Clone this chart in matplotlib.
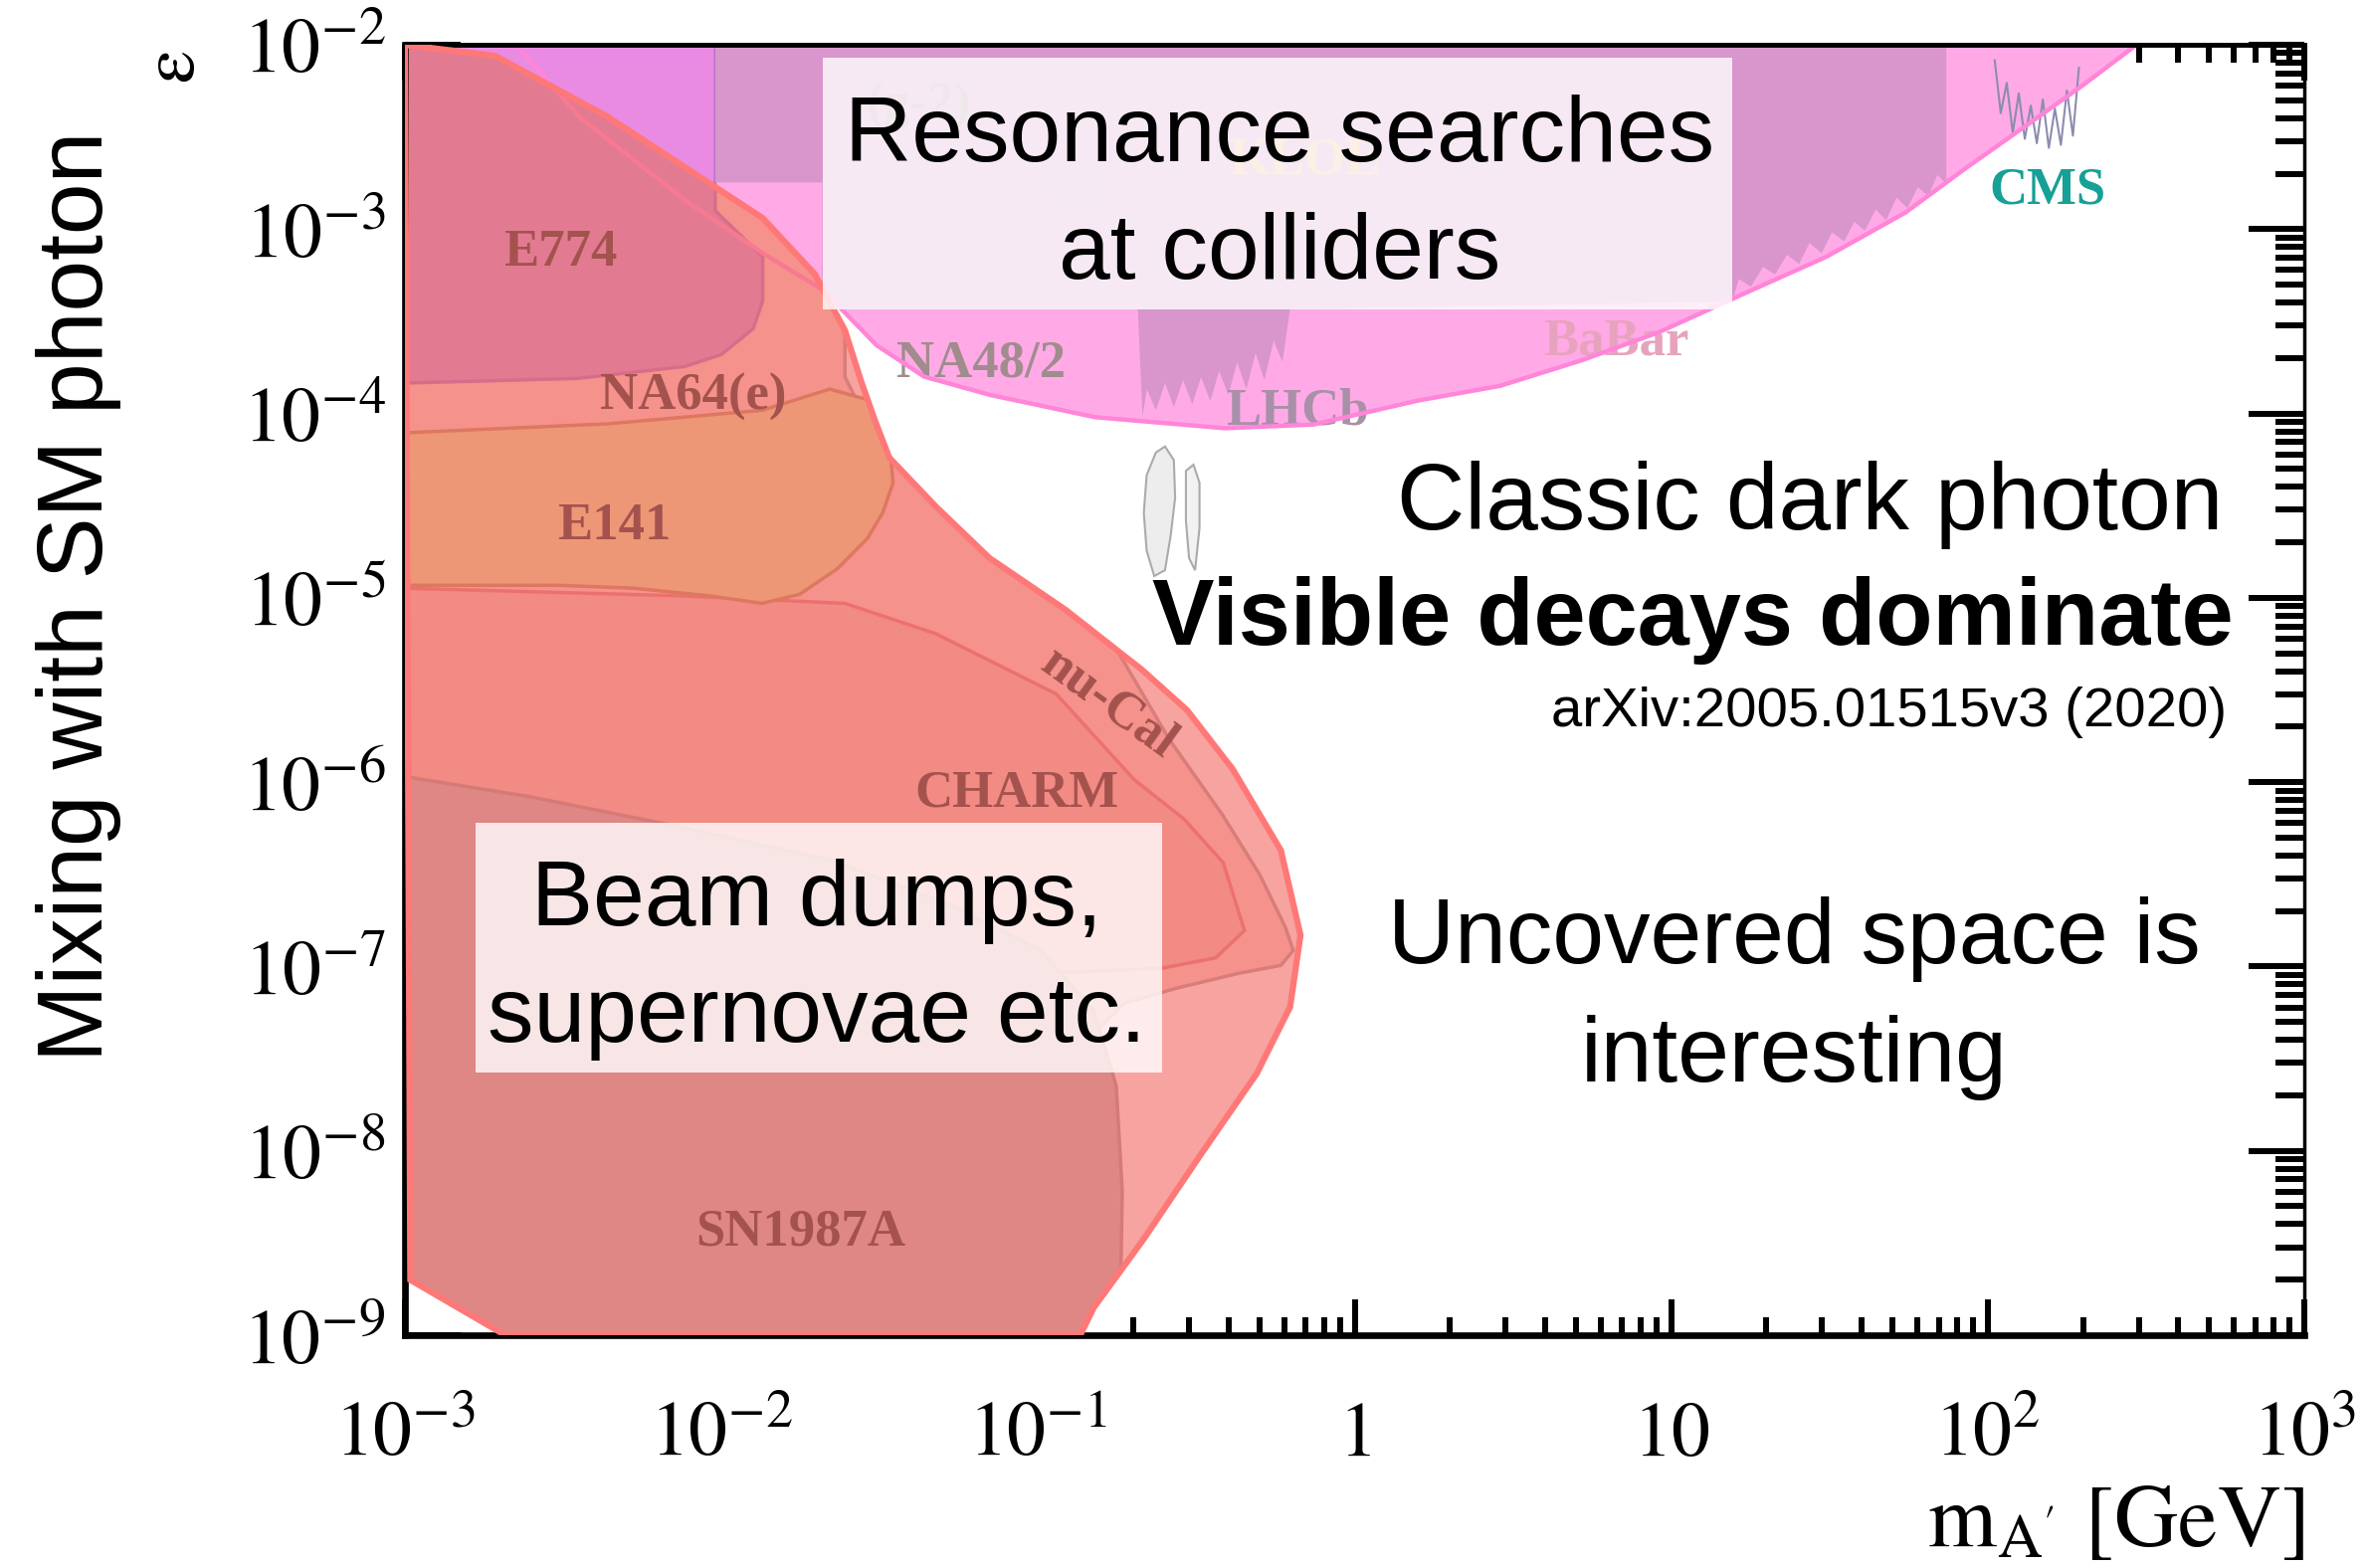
import numpy as np
import matplotlib
matplotlib.use("Agg")
import matplotlib.pyplot as plt
from matplotlib.patches import Polygon, Rectangle
from matplotlib.ticker import LogLocator, NullFormatter

plt.rcParams['mathtext.fontset'] = 'stix'
plt.rcParams['font.family'] = ['Liberation Sans', 'DejaVu Sans']

# boundaries are stored as log10(m / GeV) and log10(epsilon)

# combined beam-dump / supernova envelope
envelope_logm = [-3.00, -2.715, -2.36, -2.115, -1.87, -1.705, -1.61, -1.56, -1.515, -1.47,
                 -1.32, -1.153, -0.914, -0.672, -0.529, -0.385, -0.233, -0.171, -0.204,
                 -0.309, -0.49, -0.667, -0.824, -0.867, -2.683, -2.983]
envelope_logeps = [-2.00, -2.06, -2.39, -2.665, -2.94, -3.245, -3.55, -3.82, -4.04, -4.24,
                   -4.51, -4.785, -5.064, -5.39, -5.61, -5.93, -6.37, -6.83, -7.22,
                   -7.58, -8.03, -8.48, -8.85, -9.00, -9.00, -8.70]

# combined collider resonance-search envelope
collider_logm = [-2.66, 2.47, 2.30, 2.12, 1.93, 1.74, 1.49, 1.23, 0.96, 0.72, 0.46, 0.20,
                 -0.13, -0.41, -0.82, -1.15, -1.36, -1.51, -1.68, -1.87, -2.11, -2.45, -2.64]
collider_logeps = [-2.00, -2.00, -2.22, -2.44, -2.67, -2.91, -3.15, -3.35, -3.56, -3.71, -3.85, -3.93,
                   -4.06, -4.08, -4.02, -3.90, -3.80, -3.63, -3.33, -3.13, -2.85, -2.39, -2.02]

# (g-2)_e / E774 style region in the upper left
orchid_logm = [-3.00, -2.02, -2.02, -1.87, -1.87, -1.90, -2.00, -2.115, -2.455, -3.00]
orchid_logeps = [-2.00, -2.00, -2.90, -3.15, -3.39, -3.54, -3.68, -3.745, -3.81, -3.835]

# individual collider limits (LHCb, BaBar, KLOE, A1 ...), jagged lower edge
limits_logm = [-2.020, 1.869, 1.869, 1.841, 1.812, 1.779, 1.746, 1.712, 1.679, 1.646, 1.612,
               1.579, 1.546, 1.508, 1.475, 1.437, 1.404, 1.366, 1.328, 1.290, 1.252, 1.214,
               1.193, -0.204, -0.228, -0.256, -0.285, -0.313, -0.342, -0.371, -0.399, -0.428,
               -0.456, -0.485, -0.513, -0.542, -0.571, -0.599, -0.628, -0.656, -0.670, -0.685,
               -1.682, -1.682, -2.020]
limits_logeps = [-2.00, -2.00, -2.755, -2.706, -2.821, -2.772, -2.886, -2.829, -2.952, -2.894,
                 -3.009, -2.960, -3.066, -3.017, -3.131, -3.074, -3.189, -3.139, -3.246, -3.205,
                 -3.312, -3.271, -3.394, -3.435, -3.721, -3.606, -3.819, -3.672, -3.868, -3.721,
                 -3.900, -3.770, -3.933, -3.802, -3.950, -3.819, -3.966, -3.835, -3.983, -3.868,
                 -4.015, -3.435, -3.435, -2.747, -2.747]

# CMS dimuon limit
cms_logm = [2.022, 2.041, 2.060, 2.079, 2.098, 2.117, 2.136, 2.155, 2.174, 2.193, 2.212,
            2.231, 2.250, 2.269, 2.288]
cms_logeps = [-2.084, -2.371, -2.207, -2.477, -2.264, -2.510, -2.330, -2.534, -2.297, -2.559,
              -2.346, -2.543, -2.248, -2.493, -2.125]

# small closed contours near 0.25 GeV
blob1_logm = [-0.657, -0.628, -0.599, -0.571, -0.567, -0.581, -0.599, -0.633, -0.657, -0.666]
blob1_logeps = [-4.335, -4.212, -4.179, -4.253, -4.457, -4.662, -4.850, -4.882, -4.744, -4.539]
blob2_logm = [-0.533, -0.509, -0.490, -0.490, -0.504, -0.523, -0.533]
blob2_logeps = [-4.311, -4.278, -4.376, -4.621, -4.850, -4.785, -4.580]

# beam dump sub-regions
nucal_logm = [-3.00, -1.610, -1.610, -1.491, -1.324, -1.038, -0.753, -0.586, -0.418, -0.299,
              -0.218, -0.194, -0.233, -0.361, -0.561, -0.728, -0.848, -0.943, -0.990, -3.00]
nucal_logeps = [-2.00, -2.00, -3.802, -4.212, -4.457, -4.866, -5.276, -5.767, -6.176, -6.504,
                -6.790, -6.913, -6.994, -7.035, -7.117, -7.199, -7.404, -7.648, -9.0, -9.0]

charm_logm = [-3.00, -2.134, -1.610, -1.324, -0.943, -0.696, -0.539, -0.415, -0.348, -0.439,
              -0.610, -0.943, -1.420, -3.00]
charm_logeps = [-4.948, -4.989, -5.030, -5.194, -5.521, -5.987, -6.200, -6.437, -6.805, -6.953,
                -7.010, -7.035, -7.035, -7.035]

sn_logm = [-3.00, -2.611, -2.134, -1.658, -1.277, -0.991, -0.824, -0.753, -0.734, -0.739,
           -0.753, -3.00]
sn_logeps = [-5.970, -6.077, -6.241, -6.421, -6.666, -6.912, -7.239, -7.648, -8.221, -8.712,
             -9.0, -9.0]

e141_logm = [-3.00, -2.358, -1.872, -1.658, -1.539, -1.467, -1.458, -1.491, -1.539, -1.634,
             -1.753, -1.872, -2.039, -2.277, -2.516, -3.00]
e141_logeps = [-4.105, -4.056, -3.983, -3.868, -3.925, -4.212, -4.376, -4.539, -4.678, -4.842,
               -4.981, -5.030, -4.989, -4.948, -4.932, -4.932]

# experiment labels: name, log10 m, log10 eps, rotation
dump_labels = ["E774", "NA64(e)", "E141", "CHARM", "SN1987A", "nu-Cal"]
dump_label_logm = [-2.51, -2.09, -2.34, -1.067, -1.75, -0.776]
dump_label_logeps = [-3.13, -3.91, -4.61, -6.06, -8.44, -5.57]
dump_label_rot = [0, 0, 0, 0, 0, -36]

x_tick_exp = [-3, -2, -1, 0, 1, 2, 3]
x_tick_labels = [r'$10^{-3}$', r'$10^{-2}$', r'$10^{-1}$', r'$1$', r'$10$', r'$10^{2}$', r'$10^{3}$']
y_tick_exp = [-9, -8, -7, -6, -5, -4, -3, -2]
y_tick_labels = [r'$10^{%d}$' % e for e in y_tick_exp]


def region(ax, logm, logeps, **kw):
    xy = np.column_stack([10.0 ** np.asarray(logm), 10.0 ** np.asarray(logeps)])
    patch = Polygon(xy, closed=True, **kw)
    ax.add_patch(patch)
    return patch


W, H = 2378, 1576
fig = plt.figure(figsize=(W / 100, H / 100), dpi=100)
ax = fig.add_axes([407 / W, (H - 1342) / H, 1909 / W, 1297 / H])
ax.set_xscale('log')
ax.set_yscale('log')
ax.set_xlim(1e-3, 1e3)
ax.set_ylim(1e-9, 1e-2)
ax.set_axisbelow(True)

# collider side
region(ax, collider_logm, collider_logeps, facecolor='#FFAAE6', edgecolor='none', zorder=1.0)
region(ax, orchid_logm, orchid_logeps, facecolor='#E98BE3', edgecolor='#B070C8', lw=2.0, zorder=1.1)
region(ax, limits_logm, limits_logeps, facecolor='#D896CC', edgecolor='none', zorder=1.2)
ax.plot(10.0 ** np.array(cms_logm), 10.0 ** np.array(cms_logeps), color='#8C8CB0', lw=1.5, zorder=1.3)
region(ax, blob1_logm, blob1_logeps, facecolor='#EDEDED', edgecolor='#AAAAAA', lw=1.5, zorder=1.3)
region(ax, blob2_logm, blob2_logeps, facecolor='#F2F2F2', edgecolor='#AAAAAA', lw=1.5, zorder=1.3)

coll_labels = [("NA48/2", -1.18, -3.73, '#A08C8C'), ("LHCb", -0.18, -3.99, '#A890A8'),
               ("BaBar", 0.826, -3.61, '#E7A3BE'), ("CMS", 2.19, -2.79, '#17A096'),
               ("A1", -0.904, -2.78, '#C8A0B8'), ("KLOE", -0.156, -2.63, '#F5B880'),
               ("(g-2)$_e$", -1.35, -2.33, '#B090A0'), ("E137", -1.23, -7.20, '#A06060')]
for name, lm, le, col in coll_labels:
    ax.text(10 ** lm, 10 ** le, name, color=col, fontsize=38, fontweight='bold',
            family='Liberation Serif', ha='center', va='center', zorder=1.4)

# beam dump side, clipped to the combined envelope
env_fill = region(ax, envelope_logm, envelope_logeps, facecolor='#F3736D', alpha=0.65,
                  edgecolor='none', zorder=2.0)
subs = [
    (nucal_logm, nucal_logeps, '#FACDC8', '#A89090', 1.5),
    (charm_logm, charm_logeps, '#F0B8B0', '#E07070', 1.6),
    (sn_logm, sn_logeps, '#B9AEB4', '#A08888', 1.7),
    (e141_logm, e141_logeps, '#E5DC8C', '#B8804A', 1.8),
    (orchid_logm, orchid_logeps, '#C48AD8', '#A864C0', 1.9),
]
for lm, le, fc, ec, z in subs:
    p = region(ax, lm, le, facecolor=fc, edgecolor=ec, lw=2.5, zorder=z)
    p.set_clip_path(env_fill)
pink_edge = region(ax, collider_logm, collider_logeps, facecolor='none', edgecolor='#FF85D8',
                   lw=3.2, zorder=1.95)
region(ax, envelope_logm, envelope_logeps, facecolor='none', edgecolor='#FF7878', lw=4.5, zorder=3.0)

for name, lm, le, rot in zip(dump_labels, dump_label_logm, dump_label_logeps, dump_label_rot):
    ax.text(10 ** lm, 10 ** le, name, color='#A4524E', fontsize=38, fontweight='bold',
            family='Liberation Serif', ha='center', va='center', rotation=rot, zorder=3.5)

# axes styling
ax.set_xticks(10.0 ** np.array(x_tick_exp))
ax.set_xticklabels(x_tick_labels)
ax.set_yticks(10.0 ** np.array(y_tick_exp))
ax.set_yticklabels(y_tick_labels)
ax.xaxis.set_minor_locator(LogLocator(base=10, subs=np.arange(2, 10), numticks=100))
ax.yaxis.set_minor_locator(LogLocator(base=10, subs=np.arange(2, 10), numticks=100))
ax.xaxis.set_minor_formatter(NullFormatter())
ax.yaxis.set_minor_formatter(NullFormatter())
ax.tick_params(axis='x', which='major', direction='in', length=26, width=4.3, top=True,
               bottom=True, pad=87, labelsize=56)
ax.tick_params(axis='x', which='minor', direction='in', length=13, width=4.3, top=True, bottom=True)
ax.tick_params(axis='y', which='major', direction='in', length=40, width=4.3, left=True,
               right=True, pad=14, labelsize=56)
ax.tick_params(axis='y', which='minor', direction='in', length=21, width=4.3, left=True, right=True)
for lab in ax.get_xticklabels():
    lab.set_verticalalignment('baseline')
ax.spines['bottom'].set_linewidth(4.8)
ax.spines['left'].set_linewidth(4.8)
ax.spines['top'].set_linewidth(3.5)
ax.spines['right'].set_linewidth(2.5)

# annotation boxes
ax.add_patch(Rectangle((0.2200, 0.7949), 0.4787, 0.1951, transform=ax.transAxes,
                       facecolor='white', alpha=0.8, edgecolor='none', zorder=4))
ax.add_patch(Rectangle((0.0372, 0.2035), 0.3614, 0.1936, transform=ax.transAxes,
                       facecolor='white', alpha=0.8, edgecolor='none', zorder=4))

txt = dict(transform=ax.transAxes, zorder=5, color='black')
ax.text(0.4605, 0.9098, "Resonance searches", ha='center', va='baseline', fontsize=67, **txt)
ax.text(0.4605, 0.8188, "at colliders", ha='center', va='baseline', fontsize=67, **txt)
ax.text(0.9574, 0.6248, "Classic dark photon", ha='right', va='baseline', fontsize=68, **txt)
ax.text(0.9628, 0.5351, "Visible decays dominate", ha='right', va='baseline', fontsize=67.5,
        fontweight='bold', **txt)
ax.text(0.9591, 0.4719, "arXiv:2005.01515v3 (2020)", ha='right', va='baseline', fontsize=40.5, **txt)
ax.text(0.7313, 0.2884, "Uncovered space is", ha='center', va='baseline', fontsize=67, **txt)
ax.text(0.7313, 0.1966, "interesting", ha='center', va='baseline', fontsize=67, **txt)
ax.text(0.2169, 0.3177, "Beam dumps,", ha='center', va='baseline', fontsize=67, **txt)
ax.text(0.2169, 0.2274, "supernovae etc.", ha='center', va='baseline', fontsize=67, **txt)

# axis titles
fig.text(103 / W, 1 - 599 / H, "Mixing with SM photon", rotation=90, rotation_mode='anchor',
         ha='center', va='baseline', fontsize=67)
fig.text(176 / W, 1 - 65 / H, "ε", rotation=90, fontsize=55, family='STIXGeneral',
         ha='center', va='center')
fig.text(2316 / W, 1 - 1554 / H, r"$\mathrm{m}_{\mathrm{A'}}$ [GeV]", ha='right', va='baseline',
         fontsize=64, family='STIXGeneral')

fig.savefig("out.png", dpi=100)
